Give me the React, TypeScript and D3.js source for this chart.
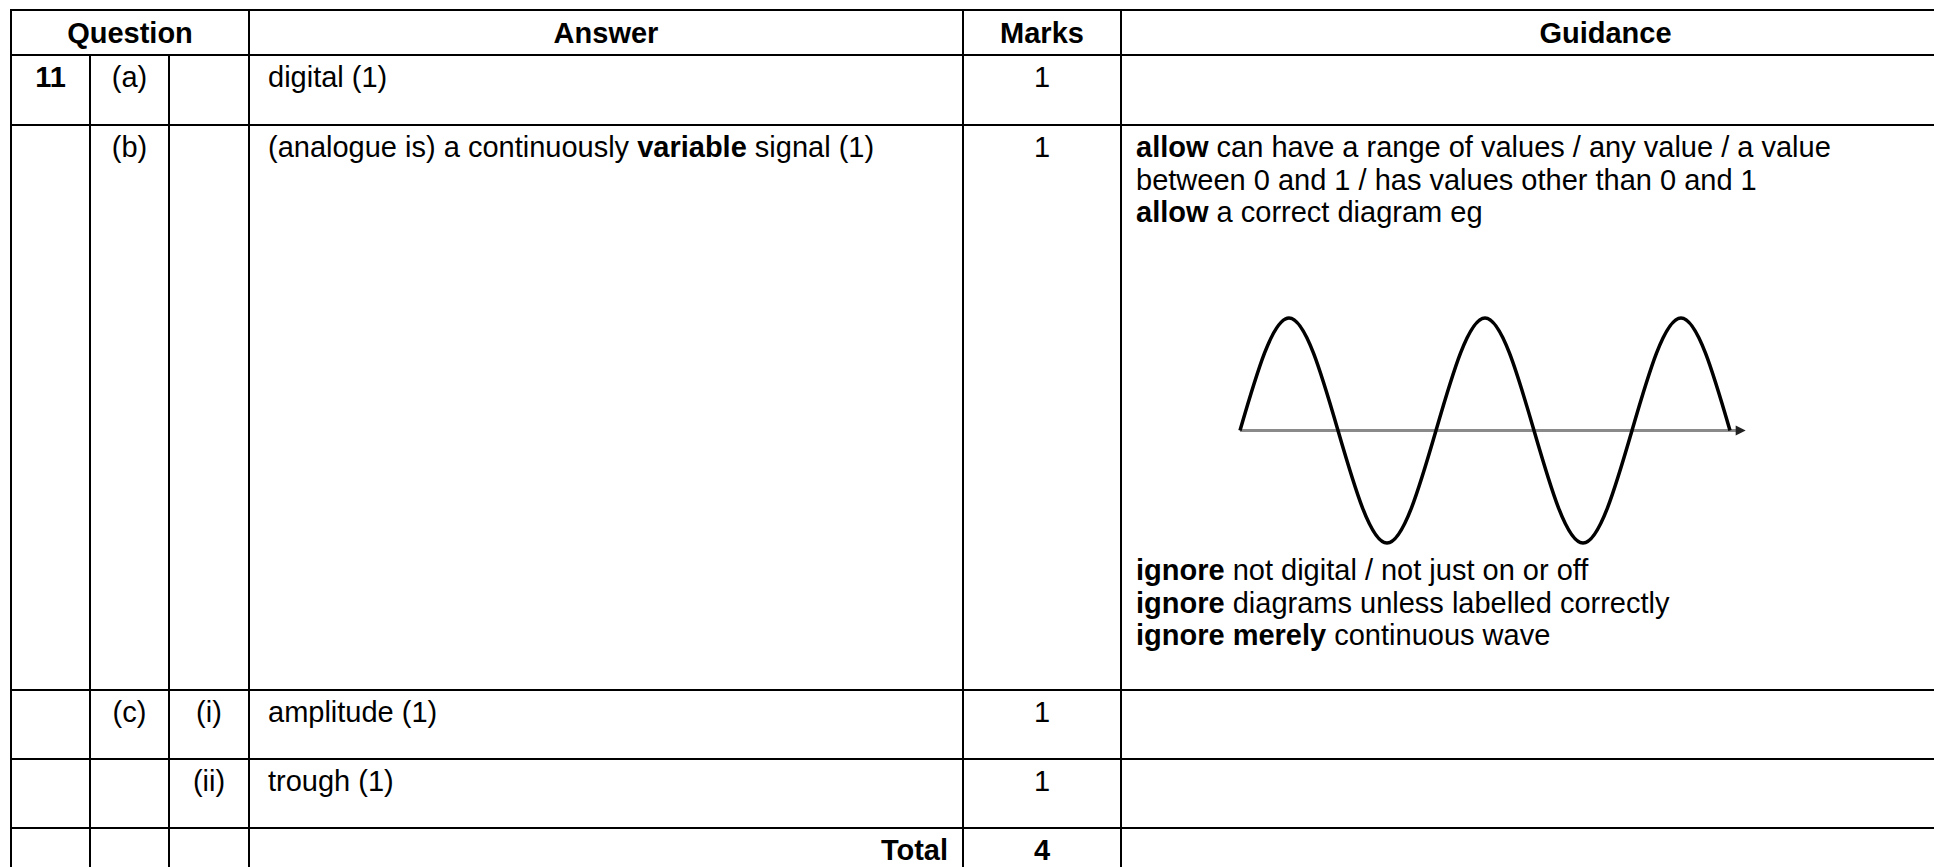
import React from 'react';
import * as d3 from 'd3';

// table content, one entry per body row
const questionNums = ['11', '', '', '', ''];
const parts = ['(a)', '(b)', '(c)', '', ''];
const subParts = ['', '', '(i)', '(ii)', ''];
const answers = [
  [{ t: 'digital (1)' }],
  [{ t: '(analogue is) a continuously ' }, { t: 'variable', b: true }, { t: ' signal (1)' }],
  [{ t: 'amplitude (1)' }],
  [{ t: 'trough (1)' }],
  [{ t: 'Total', b: true }],
];
const marks = ['1', '1', '1', '1', '4'];
const headers = ['Question', 'Answer', 'Marks', 'Guidance'];

const guidanceTop = [
  [{ t: 'allow', b: true }, { t: ' can have a range of values / any value / a value' }],
  [{ t: 'between 0 and 1 / has values other than 0 and 1' }],
  [{ t: 'allow', b: true }, { t: ' a correct diagram eg' }],
];
const guidanceBottom = [
  [{ t: 'ignore', b: true }, { t: ' not digital / not just on or off' }],
  [{ t: 'ignore', b: true }, { t: ' diagrams unless labelled correctly' }],
  [{ t: 'ignore merely', b: true }, { t: ' continuous wave' }],
];

// example wave: read at quarter cycles (0 = axis, 1 = crest, -1 = trough)
const waveCycle = [0, 0.25, 0.5, 0.75, 1, 1.25, 1.5, 1.75, 2, 2.25, 2.5];
const waveLevel = [0, 1, 0, -1, 0, 1, 0, -1, 0, 1, 0];

const W = 1934;
const H = 867;
const FONT = '"Liberation Sans", Arial, sans-serif';
const FS = 29;
const colX = [11, 90, 169, 249, 963, 1121, 2090];
const rowY = [10, 55, 125, 690, 759, 828, 900];

const Rich = ({ segs, x, y, anchor = 'start' }: any) => (
  <text x={x} y={y} fontSize={FS} fontFamily={FONT} textAnchor={anchor} fill="#000">
    {segs.map((s: any, i: number) => (
      <tspan key={i} fontWeight={s.b ? 'bold' : 'normal'}>{s.t}</tspan>
    ))}
  </text>
);

export default function App() {
  const x = d3.scaleLinear().domain([0, 2.5]).range([1240, 1730]);
  const y = d3.scaleLinear().domain([-1, 1]).range([543, 318]);
  const wavePts = waveCycle.map((c, i) => [c, waveLevel[i]] as [number, number]);
  const wave = d3.line<[number, number]>()
    .x(d => x(d[0]))
    .y(d => y(d[1]))
    .curve(d3.curveNatural)(wavePts);
  const axisEnd = x(2.58);
  const axisY = y(0);

  const bodyRows = questionNums.map((_, i) => i);
  const base = (r: number) => rowY[r + 1] + 32;

  return (
    <svg width={W} height={H} style={{ position: 'fixed', left: 0, top: 0, background: '#fff' }}>
      {/* header */}
      <Rich segs={[{ t: headers[0], b: true }]} x={(colX[0] + colX[3]) / 2} y={43} anchor="middle" />
      <Rich segs={[{ t: headers[1], b: true }]} x={(colX[3] + colX[4]) / 2} y={43} anchor="middle" />
      <Rich segs={[{ t: headers[2], b: true }]} x={(colX[4] + colX[5]) / 2} y={43} anchor="middle" />
      <Rich segs={[{ t: headers[3], b: true }]} x={(colX[5] + colX[6]) / 2} y={43} anchor="middle" />

      {bodyRows.map(r => (
        <g key={r}>
          <Rich segs={[{ t: questionNums[r], b: true }]} x={(colX[0] + colX[1]) / 2} y={base(r)} anchor="middle" />
          <Rich segs={[{ t: parts[r] }]} x={(colX[1] + colX[2]) / 2} y={base(r)} anchor="middle" />
          <Rich segs={[{ t: subParts[r] }]} x={(colX[2] + colX[3]) / 2} y={base(r)} anchor="middle" />
          {r === 4
            ? <Rich segs={answers[r]} x={colX[4] - 15} y={base(r)} anchor="end" />
            : <Rich segs={answers[r]} x={colX[3] + 19} y={base(r)} />}
          <Rich segs={[{ t: marks[r], b: r === 4 }]} x={(colX[4] + colX[5]) / 2} y={base(r)} anchor="middle" />
        </g>
      ))}

      {guidanceTop.map((segs, i) => (
        <Rich key={'gt' + i} segs={segs} x={colX[5] + 15} y={157 + i * 32.7} />
      ))}
      {guidanceBottom.map((segs, i) => (
        <Rich key={'gb' + i} segs={segs} x={colX[5] + 15} y={580 + i * 32.5} />
      ))}

      {/* example diagram */}
      <line x1={x(0)} x2={axisEnd - 6} y1={axisY} y2={axisY} stroke="#8a8a8a" strokeWidth={3} />
      <path d={`M${axisEnd},${axisY} L${axisEnd - 10},${axisY - 5} L${axisEnd - 10},${axisY + 5} Z`} fill="#222" />
      <path d={wave || ''} fill="none" stroke="#000" strokeWidth={3.5} />

      {/* grid */}
      {rowY.slice(0, 6).map((ry, i) => (
        <line key={'h' + i} x1={colX[0] - 1} x2={W} y1={ry} y2={ry} stroke="#000" strokeWidth={2} />
      ))}
      {[0, 3, 4, 5].map(c => (
        <line key={'v' + c} x1={colX[c]} x2={colX[c]} y1={rowY[0]} y2={H} stroke="#000" strokeWidth={2} />
      ))}
      {[1, 2].map(c => (
        <line key={'v' + c} x1={colX[c]} x2={colX[c]} y1={rowY[1]} y2={H} stroke="#000" strokeWidth={2} />
      ))}
    </svg>
  );
}
